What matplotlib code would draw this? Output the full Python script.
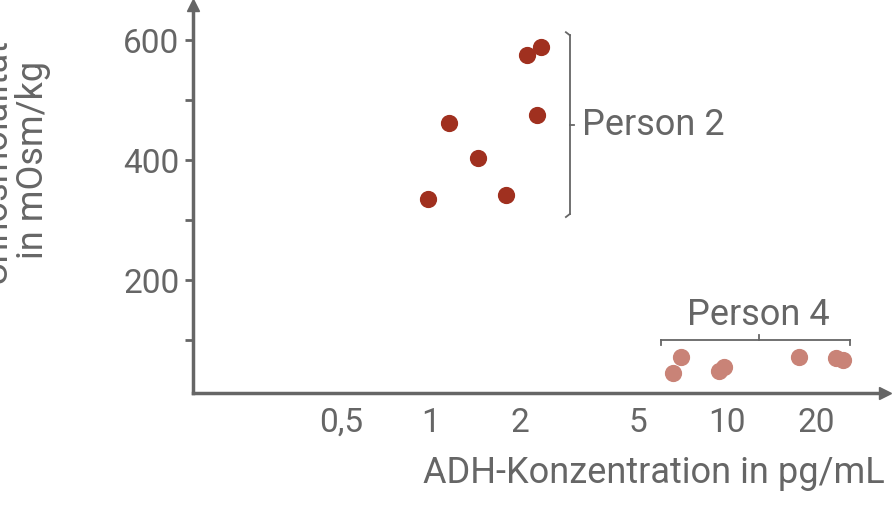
import numpy as np
import matplotlib.pyplot as plt

plt.rcParams['font.family'] = ['Roboto', 'DejaVu Sans']
grey = '#666666'

# Person 2
p2_adh = [0.98, 1.15, 1.44, 1.80, 2.12, 2.36, 2.28]
p2_osm = [335, 462, 403, 342, 575, 588, 475]
# Person 4
p4_adh = [6.6, 7.0, 9.4, 9.8, 17.6, 23.4, 24.6]
p4_osm = [45, 72, 48, 55, 72, 70, 67]

xticks = [0.5, 1, 2, 5, 10, 20]
xticklabels = ['0,5', '1', '2', '5', '10', '20']

fig = plt.figure(figsize=(8.92, 5.21), dpi=100)
ax = fig.add_axes([0.216, 0.246, 0.776, 0.744])
ax.set_xscale('log')
ax.set_xlim(0.157, 34.2)
ax.set_ylim(12, 658)

ax.scatter(p2_adh, p2_osm, s=130, color='#a0301f', zorder=3)
ax.scatter(p4_adh, p4_osm, s=130, color='#c98377', zorder=3)

for s in ['top', 'right']:
    ax.spines[s].set_visible(False)
for s in ['left', 'bottom']:
    ax.spines[s].set_color(grey)
    ax.spines[s].set_linewidth(2.5)
ax.plot(1, 0, '>', color=grey, ms=9, transform=ax.transAxes, clip_on=False)
ax.plot(0, 1, '^', color=grey, ms=9, transform=ax.transAxes, clip_on=False)

ax.set_xticks(xticks)
ax.set_xticklabels(xticklabels)
ax.xaxis.set_minor_locator(plt.NullLocator())
ax.tick_params(axis='x', length=0, pad=10, labelsize=24, colors=grey)
ax.set_yticks([200, 400, 600])
ax.set_yticks([100, 300, 500], minor=True)
ax.tick_params(axis='y', which='both', direction='out', length=6, width=2, colors=grey, labelsize=24)

ax.set_xlabel('ADH-Konzentration in pg/mL', fontsize=26, color=grey, loc='right', labelpad=12)
ax.set_ylabel('Urinosmolalität\nin mOsm/kg', fontsize=26, color=grey, linespacing=1.05)
ax.yaxis.set_label_coords(-0.205, 0.6)

# Klammer Person 2
bx = 2.95
lc = dict(color=grey, lw=1.3, clip_on=False)
ax.plot([bx, bx], [310, 608], **lc)
ax.plot([bx * 0.97, bx], [305, 310], **lc)
ax.plot([bx * 0.97, bx], [613, 608], **lc)
ax.plot([bx, bx * 1.03], [458, 458], **lc)
ax.text(3.25, 458, 'Person 2', fontsize=26, color=grey, va='center')

# Klammer Person 4
by = 100
ax.plot([6.0, 26.0], [by, by], **lc)
ax.plot([6.0, 6.0], [92, by], **lc)
ax.plot([26.0, 26.0], [92, by], **lc)
ax.plot([12.8, 12.8], [by, 108], **lc)
ax.text(12.8, 112, 'Person 4', fontsize=26, color=grey, ha='center', va='bottom')

fig.savefig('out.png', dpi=100)
